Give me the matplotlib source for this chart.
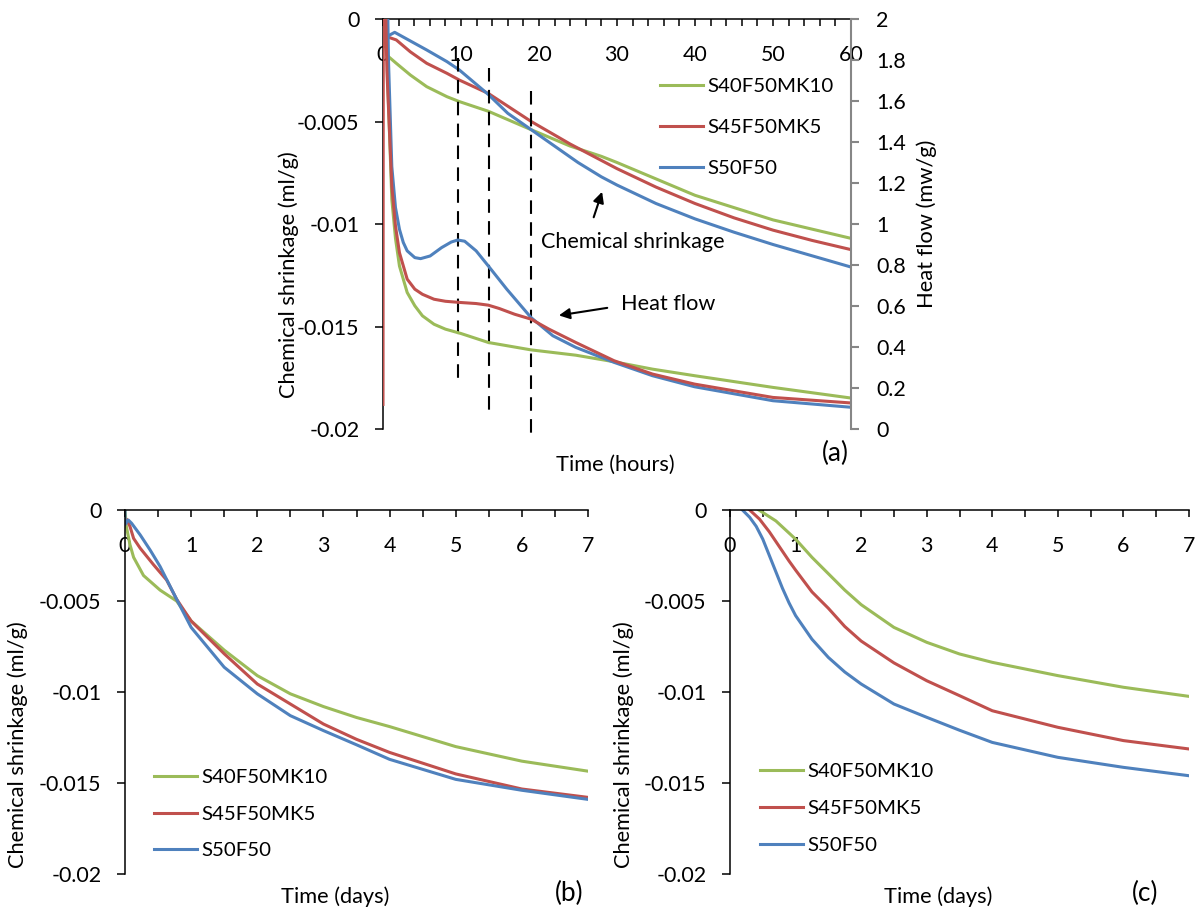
import matplotlib
matplotlib.use("Agg")
import matplotlib.pyplot as plt

plt.rcParams['font.family'] = ['Lato', 'DejaVu Sans']
plt.rcParams['font.size'] = 14.5

# ---------------- data ----------------
names = ["S40F50MK10", "S45F50MK5", "S50F50"]
colors = ["#9BBB59", "#C0504D", "#4F81BD"]

# panel (a): chemical shrinkage (ml/g) vs time (hours)
a_chem_green_t = [0, 0.47, 1.7, 3.5, 5.6, 8.2, 9.8, 13.5, 19, 24, 28, 30, 35, 40, 45, 50, 55, 60]
a_chem_green_v = [0, -0.00176, -0.00216, -0.00273, -0.0033, -0.00379, -0.00403, -0.0045, -0.0054,
                  -0.0062, -0.0067, -0.0070, -0.0078, -0.0086, -0.0092, -0.0098, -0.01025, -0.0107]
a_chem_red_t = [0, 0.47, 1.7, 3.5, 5.6, 8.2, 9.8, 13.5, 19, 24, 28, 30, 35, 40, 45, 50, 55, 60]
a_chem_red_v = [0, -0.00086, -0.00102, -0.0016, -0.00216, -0.00265, -0.00298, -0.00363, -0.0050,
                -0.0061, -0.0069, -0.0073, -0.0082, -0.0090, -0.0097, -0.0103, -0.0108, -0.01125]
a_chem_blue_t = [0, 0.47, 1.5, 3.5, 5.6, 8.2, 9.8, 13.5, 16, 19, 22, 25, 28, 30, 35, 40, 45, 50, 55, 60]
a_chem_blue_v = [0, -0.00086, -0.00065, -0.00107, -0.00151, -0.00208, -0.00249, -0.00368, -0.0046,
                 -0.0054, -0.0062, -0.0070, -0.0077, -0.0081, -0.0090, -0.00975, -0.0104, -0.0110,
                 -0.01155, -0.0121]

# panel (a): heat flow (mw/g) vs time (hours)
a_heat_green_t = [0.35, 0.6, 1.13, 1.6, 2.11, 3.10, 4.08, 5.06, 6.54, 8.01, 9.98, 13.51, 18.97, 24.72,
                  29.63, 34.55, 39.95, 49.98, 60]
a_heat_green_v = [2.6, 1.7, 1.12, 0.93, 0.795, 0.666, 0.601, 0.552, 0.511, 0.487, 0.466, 0.422, 0.386, 0.360,
                  0.328, 0.292, 0.260, 0.203, 0.151]
a_heat_red_t = [0, 0.05, 0.5, 1.13, 1.6, 2.11, 3.10, 4.08, 5.06, 6.54, 8.01, 9.98, 11.94, 13.51, 14.89,
                16.86, 18.97, 21.28, 24.72, 29.63, 34.55, 39.95, 49.98, 60]
a_heat_red_v = [0.12, 2.6, 1.75, 1.185, 0.99, 0.86, 0.731, 0.682, 0.657, 0.633, 0.623, 0.617, 0.612, 0.604,
                0.588, 0.560, 0.536, 0.487, 0.422, 0.333, 0.268, 0.219, 0.154, 0.127]
a_heat_blue_t = [0.4, 0.7, 1.13, 1.6, 2.11, 2.6, 3.10, 4.08, 4.82, 6.04, 7.52, 8.75, 9.58, 10.47, 11.94,
                 13.51, 15.87, 18.97, 21.77, 24.72, 29.63, 34.55, 39.95, 49.98, 60]
a_heat_blue_v = [2.6, 1.8, 1.28, 1.08, 0.974, 0.91, 0.869, 0.836, 0.831, 0.844, 0.885, 0.912, 0.922, 0.916,
                 0.869, 0.795, 0.682, 0.544, 0.455, 0.398, 0.325, 0.26, 0.206, 0.138, 0.106]

# dashed marker lines in panel (a): time (h), top and bottom (ml/g)
dash_t = [9.6, 13.6, 19.0]
dash_top = [-0.0019, -0.0024, -0.0035]
dash_bottom = [-0.0179, -0.0192, -0.0203]

# panel (b): time (days)
b_green_t = [0, 0.02, 0.075, 0.13, 0.28, 0.53, 0.78, 1.0, 1.5, 2.0, 2.5, 3.0, 3.5, 4.0, 5.0, 6.0, 7.0]
b_green_v = [0, -0.0009, -0.0019, -0.0026, -0.0036, -0.0044, -0.0050, -0.0061, -0.0077, -0.0091, -0.0101,
             -0.0108, -0.0114, -0.0119, -0.0130, -0.0138, -0.01435]
b_red_t = [0.03, 0.075, 0.13, 0.23, 0.43, 0.63, 0.78, 1.0, 1.5, 2.0, 2.5, 3.0, 3.5, 4.0, 5.0, 6.0, 7.0]
b_red_v = [-0.00055, -0.0009, -0.00156, -0.0021, -0.003, -0.00385, -0.0049, -0.0061, -0.0079, -0.00956,
           -0.01066, -0.01176, -0.0126, -0.01332, -0.0145, -0.01533, -0.01579]
b_blue_t = [0, 0, 0.05, 0.1, 0.23, 0.38, 0.53, 0.78, 1.0, 1.5, 2.0, 2.5, 3.0, 3.5, 4.0, 5.0, 6.0, 7.0]
b_blue_v = [0, -0.0008, -0.00055, -0.00073, -0.00137, -0.0022, -0.0031, -0.0049, -0.00645, -0.00864,
            -0.0101, -0.0113, -0.01212, -0.0129, -0.0137, -0.0148, -0.0154, -0.0159]

# panel (c): time (days)
c_green_t = [0.44, 0.7, 1.0, 1.25, 1.5, 1.75, 2.0, 2.5, 3.0, 3.5, 4.0, 5.0, 6.0, 7.0]
c_green_v = [0, -0.0006, -0.0016, -0.0026, -0.0035, -0.0044, -0.0052, -0.00645, -0.00727, -0.00791,
             -0.00837, -0.0091, -0.00974, -0.01024]
c_red_t = [0.30, 0.45, 0.6, 0.75, 0.9, 1.0, 1.25, 1.5, 1.75, 2.0, 2.5, 3.0, 3.5, 4.0, 5.0, 6.0, 7.0]
c_red_v = [0, -0.0005, -0.0012, -0.0020, -0.0028, -0.0033, -0.0045, -0.0054, -0.0064, -0.0072, -0.0084,
           -0.00938, -0.0102, -0.01103, -0.01194, -0.01267, -0.01313]
c_blue_t = [0.19, 0.3, 0.4, 0.5, 0.6, 0.7, 0.8, 0.9, 1.0, 1.25, 1.5, 1.75, 2.0, 2.5, 3.0, 3.5, 4.0, 5.0, 6.0, 7.0]
c_blue_v = [0, -0.0004, -0.0009, -0.0016, -0.0025, -0.0034, -0.0043, -0.0051, -0.0058, -0.0071, -0.0081,
            -0.0089, -0.00956, -0.01066, -0.01139, -0.0121, -0.01277, -0.01359, -0.01414, -0.0146]

y_ticks = [0, -0.005, -0.01, -0.015, -0.02]
y_ticklabels = ["0", "-0.005", "-0.01", "-0.015", "-0.02"]
hours_ticks = [0, 10, 20, 30, 40, 50, 60]
hours_minor = list(range(0, 61, 2))
days_ticks = [0, 1, 2, 3, 4, 5, 6, 7]
days_minor = [i * 0.5 for i in range(15)]
heat_ticks = [0, 0.2, 0.4, 0.6, 0.8, 1.0, 1.2, 1.4, 1.6, 1.8, 2.0]
heat_ticklabels = ["0", "0.2", "0.4", "0.6", "0.8", "1", "1.2", "1.4", "1.6", "1.8", "2"]

# ---------------- figure ----------------
W, H = 1196, 913
fig = plt.figure(figsize=(W / 100, H / 100), dpi=100)
renderer = fig.canvas.get_renderer()


def fit(text, target_px, base=20.0):
    t = fig.text(0, 0, text, fontsize=base)
    w = t.get_window_extent(renderer).width
    t.remove()
    return base * target_px / w


TICK_FS = fit("-0.005", 62.5)
LEG_FS = fit("S40F50MK10", 126)
XL_FS = (fit("Time (hours)", 121) + fit("Time (days)", 106.5)) / 2
YL_FS = fit("Chemical shrinkage (ml/g)", 248)
ANN_FS = (fit("Chemical shrinkage", 186) + fit("Heat flow", 93)) / 2
LET_FS = fit("(a)", 27)

LW = 2.2
SP = 1.1


def px_axes(l, t, r, b):
    return fig.add_axes([l / W, 1 - b / H, (r - l) / W, (b - t) / H])


def style(ax, xmax, majors, minors):
    ax.set_xlim(0, xmax)
    ax.set_ylim(-0.02, 0)
    ax.spines['bottom'].set_position(('data', 0))
    ax.spines['top'].set_visible(False)
    ax.spines['right'].set_visible(False)
    for s in ('left', 'bottom'):
        ax.spines[s].set_linewidth(SP)
        ax.spines[s].set_color('black')
    ax.set_xticks(majors)
    ax.set_xticklabels([str(m) for m in majors])
    ax.set_xticks(minors, minor=True)
    ax.tick_params(axis='x', which='both', direction='out', length=5, width=SP, pad=14,
                   labelsize=TICK_FS)
    ax.set_yticks(y_ticks)
    ax.set_yticklabels(y_ticklabels)
    ax.tick_params(axis='y', direction='out', length=6, width=SP, pad=11, labelsize=TICK_FS)
    ax.patch.set_alpha(0)


def place_legend(ax, handles, x_line, y_rows):
    fs_px = LEG_FS * 100 / 72
    kw = dict(loc='upper left', bbox_transform=fig.transFigure, frameon=False, borderpad=0,
              borderaxespad=0, handlelength=43 / fs_px, handletextpad=4 / fs_px, fontsize=LEG_FS)
    ls = 0.8
    ax_x, ax_y = x_line, y_rows[0] - 10
    leg = ax.legend(handles=handles, labels=names, bbox_to_anchor=(ax_x / W, 1 - ax_y / H),
                    labelspacing=ls, **kw)
    for _ in range(3):
        fig.canvas.draw()
        r = fig.canvas.get_renderer()
        ext = [hd.get_window_extent(r) for hd in leg.legend_handles]
        cy = [H - e.y0 for e in ext]
        cur = (cy[-1] - cy[0]) / (len(cy) - 1)
        tgt = (y_rows[-1] - y_rows[0]) / (len(y_rows) - 1)
        ls += (tgt - cur) / fs_px
        ax_y += y_rows[0] - cy[0]
        ax_x += x_line - ext[0].x0
        leg = ax.legend(handles=handles, labels=names, bbox_to_anchor=(ax_x / W, 1 - ax_y / H),
                        labelspacing=ls, **kw)
    return leg


# ----- panel (a) -----
axa = px_axes(383, 19, 851, 429)
style(axa, 60, hours_ticks, hours_minor)
chem_a = [(a_chem_green_t, a_chem_green_v), (a_chem_red_t, a_chem_red_v), (a_chem_blue_t, a_chem_blue_v)]
handles_a = []
for (t, v), c in zip(chem_a, colors):
    h, = axa.plot(t, v, color=c, lw=LW)
    handles_a.append(h)
for t, y0, y1 in zip(dash_t, dash_top, dash_bottom):
    axa.plot([t, t], [y0, y1], color='black', lw=1.5, linestyle=(0, (6.5, 4)), clip_on=False)
axa.set_xlabel("Time (hours)", fontsize=XL_FS)
axa.xaxis.set_label_coords(0.496, -0.062)
axa.set_ylabel("Chemical shrinkage (ml/g)", fontsize=YL_FS)
axa.yaxis.set_label_coords(-0.18, 0.376)

axa2 = axa.twinx()
axa2.set_ylim(0, 2)
axa2.set_xlim(0, 60)
heat_a = [(a_heat_green_t, a_heat_green_v), (a_heat_blue_t, a_heat_blue_v), (a_heat_red_t, a_heat_red_v)]
heat_cols = [colors[0], colors[2], colors[1]]
for (t, v), c in zip(heat_a, heat_cols):
    axa2.plot(t, v, color=c, lw=LW)
for s in ('left', 'top', 'bottom'):
    axa2.spines[s].set_visible(False)
axa2.spines['right'].set_color('#868686')
axa2.spines['right'].set_linewidth(1.5)
axa2.set_yticks(heat_ticks)
axa2.set_yticklabels(heat_ticklabels)
axa2.tick_params(axis='y', direction='out', length=6, width=1.5, color='#868686',
                 labelcolor='black', pad=12, labelsize=TICK_FS)
axa2.set_ylabel("Heat flow (mw/g)", rotation=90, fontsize=YL_FS)
axa2.yaxis.set_label_coords(1.14, 0.5)

axa.annotate("", xy=(28.2, -0.0083), xytext=(26.9, -0.0098),
             arrowprops=dict(arrowstyle='-|>', color='black', lw=1.5, mutation_scale=16))
axa.text(20.2, -0.0109, "Chemical shrinkage", ha='left', va='center', fontsize=ANN_FS)
axa.annotate("", xy=(22.2, -0.01448), xytext=(29.1, -0.01407),
             arrowprops=dict(arrowstyle='-|>', color='black', lw=1.5, mutation_scale=16))
axa.text(30.5, -0.0139, "Heat flow", ha='left', va='center', fontsize=ANN_FS)
fig.text(835 / W, 1 - 453 / H, "(a)", ha='center', va='center', fontsize=LET_FS)

# ----- panel (b) -----
axb = px_axes(125, 510, 588, 874)
style(axb, 7, days_ticks, days_minor)
handles_b = []
for (t, v), c in zip([(b_green_t, b_green_v), (b_red_t, b_red_v), (b_blue_t, b_blue_v)], colors):
    h, = axb.plot(t, v, color=c, lw=LW)
    handles_b.append(h)
axb.set_xlabel("Time (days)", fontsize=XL_FS)
axb.xaxis.set_label_coords(0.454, -0.033)
axb.set_ylabel("Chemical shrinkage (ml/g)", fontsize=YL_FS)
axb.yaxis.set_label_coords(-0.21, 0.355)
fig.text(569 / W, 1 - 893 / H, "(b)", ha='center', va='center', fontsize=LET_FS)

# ----- panel (c) -----
axc = px_axes(730, 510, 1189, 874)
style(axc, 7, days_ticks, days_minor)
handles_c = []
for (t, v), c in zip([(c_green_t, c_green_v), (c_red_t, c_red_v), (c_blue_t, c_blue_v)], colors):
    h, = axc.plot(t, v, color=c, lw=LW)
    handles_c.append(h)
axc.set_xlabel("Time (days)", fontsize=XL_FS)
axc.xaxis.set_label_coords(0.453, -0.033)
axc.set_ylabel("Chemical shrinkage (ml/g)", fontsize=YL_FS)
axc.yaxis.set_label_coords(-0.21, 0.355)
fig.text(1145 / W, 1 - 893 / H, "(c)", ha='center', va='center', fontsize=LET_FS)

# legends
place_legend(axa2, handles_a, 660, [85, 126, 167])
place_legend(axb, handles_b, 154, [776, 812, 849])
place_legend(axc, handles_c, 760, [770, 807, 844])

fig.savefig("out.png", dpi=100)
